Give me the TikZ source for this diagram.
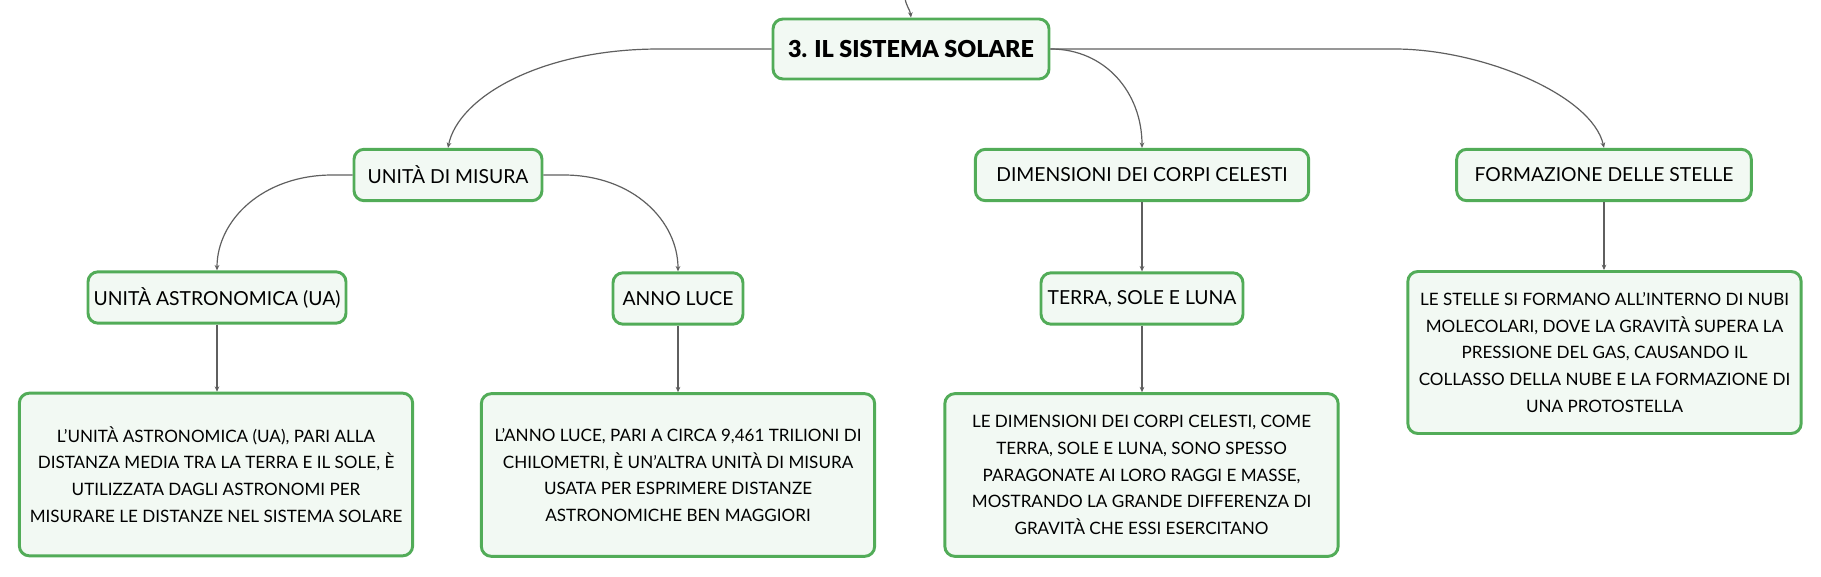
\documentclass[tikz,border=0pt]{standalone}
\usepackage{fontspec}
\setmainfont{Lato}
\newfontfamily\heavyfont{Lato Black}
\usetikzlibrary{arrows.meta}

\begin{document}
\begin{tikzpicture}[x=0.75pt,y=0.75pt,yscale=-1,xscale=1,
  box/.style={draw={rgb, 255:red, 82; green, 172; blue, 88 }, line width=2.2pt, fill={rgb, 255:red, 242; green, 249; blue, 243 }, rounded corners=7.5pt, inner sep=0pt, align=center, text=black},
  topic/.style={box, font=\fontsize{14.5}{17}\selectfont, minimum height=38.5pt},
  note/.style={box, font=\fontsize{12.8}{20}\selectfont, minimum width=295pt, minimum height=122pt},
  link/.style={draw={rgb, 255:red, 95; green, 95; blue, 95 }, line width=0.9pt, -{Stealth[length=4pt,width=3.5pt]}}]
\useasboundingbox (0,0) rectangle (1821,577);

%Shape: Rounded Rect (main topic)
\node [box, font=\fontsize{17.5}{22}\heavyfont, minimum width=207pt, minimum height=45pt] (root) at (911,49) {3. IL SISTEMA SOLARE};
%Shape: Rounded Rect (topics)
\node [topic, minimum width=141pt] (umis) at (448,175) {UNITÀ DI MISURA};
\node [topic, minimum width=250pt] (dim) at (1142,175) {DIMENSIONI DEI CORPI CELESTI};
\node [topic, minimum width=221pt] (form) at (1604,175) {FORMAZIONE DELLE STELLE};
\node [topic, minimum width=193.5pt] (ua) at (217,297.5) {UNITÀ ASTRONOMICA (UA)};
\node [topic, minimum width=97.5pt] (al) at (678,298.5) {ANNO LUCE};
\node [topic, minimum width=151.5pt] (tsl) at (1142,298.5) {TERRA, SOLE E LUNA};

% Text Node
\node [note] (uatxt) at (216,474.5) {L'UNITÀ ASTRONOMICA (UA), PARI ALLA\\DISTANZA MEDIA TRA LA TERRA E IL SOLE, È\\UTILIZZATA DAGLI ASTRONOMI PER\\MISURARE LE DISTANZE NEL SISTEMA SOLARE};
% Text Node
\node [note] (altxt) at (678,475) {L'ANNO LUCE, PARI A CIRCA 9,461 TRILIONI DI\\CHILOMETRI, È UN'ALTRA UNITÀ DI MISURA\\USATA PER ESPRIMERE DISTANZE\\ASTRONOMICHE BEN MAGGIORI};
% Text Node
\node [note] (dimtxt) at (1141.5,475) {LE DIMENSIONI DEI CORPI CELESTI, COME\\TERRA, SOLE E LUNA, SONO SPESSO\\PARAGONATE AI LORO RAGGI E MASSE,\\MOSTRANDO LA GRANDE DIFFERENZA DI\\GRAVITÀ CHE ESSI ESERCITANO};
% Text Node
\node [note, minimum height=121.5pt] (formtxt) at (1604.5,352.5) {LE STELLE SI FORMANO ALL'INTERNO DI NUBI\\MOLECOLARI, DOVE LA GRAVITÀ SUPERA LA\\PRESSIONE DEL GAS, CAUSANDO IL\\COLLASSO DELLA NUBE E LA FORMAZIONE DI\\UNA PROTOSTELLA};

%Curve Lines
\coordinate (up) at (905,-2);
\draw [link] (up) .. controls +(1,8) and +(-1,-8) .. (root.north);
\draw [link] (root.west) -- ++(-112,0) .. controls +(-120,0) and +(10,-50) .. (umis.north);
\draw [link] (root.east) .. controls +(55,0) and +(0,-55) .. (dim.north);
\draw [link] (root.east) -- ++(344,0) .. controls +(87,0) and +(-12,-53) .. (form.north);
\draw [link] (umis.west) -- ++(-20,0) .. controls +(-70,0) and +(0,-50) .. (ua.north);
\draw [link] (umis.east) -- ++(20,0) .. controls +(70,0) and +(0,-50) .. (al.north);
%Straight Lines
\draw [link] (ua.south) -- (ua.south |- uatxt.north);
\draw [link] (al.south) -- (altxt.north);
\draw [link] (dim.south) -- (tsl.north);
\draw [link] (tsl.south) -- (tsl.south |- dimtxt.north);
\draw [link] (form.south) -- (form.south |- formtxt.north);

\end{tikzpicture}
\end{document}
